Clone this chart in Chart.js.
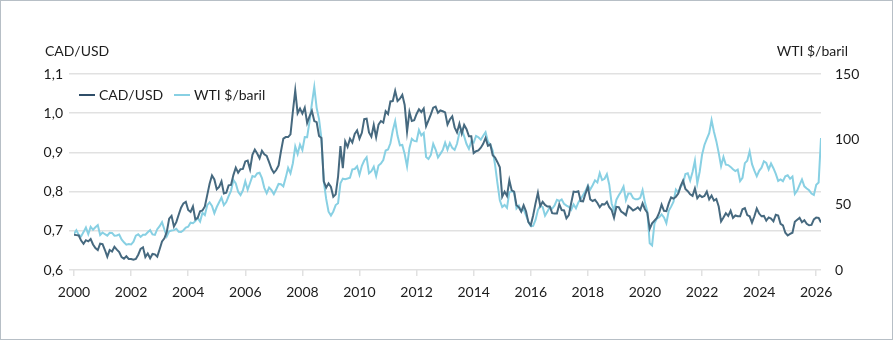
<!DOCTYPE html>
<html>
<head>
<meta charset="utf-8">
<script src="https://cdn.jsdelivr.net/npm/chart.js@4"></script>
<style>
  html, body { margin: 0; padding: 0; background: #ffffff; }
  canvas { display: block; }
</style>
</head>
<body>
<canvas id="chart" width="893" height="340"></canvas>
<script>
// Monthly series, Jan 2000 onward (end of month)
const startYear = 2000;

const cadUsd = [
  // 2000
  0.690, 0.689, 0.688, 0.675, 0.667, 0.676, 0.673, 0.679, 0.665, 0.656, 0.651, 0.667,
  // 2001
  0.666, 0.651, 0.634, 0.651, 0.647, 0.659, 0.652, 0.646, 0.633, 0.629, 0.635, 0.628,
  // 2002
  0.628, 0.626, 0.628, 0.639, 0.654, 0.658, 0.633, 0.642, 0.630, 0.641, 0.640, 0.634,
  // 2003
  0.653, 0.673, 0.681, 0.697, 0.731, 0.738, 0.711, 0.722, 0.741, 0.759, 0.770, 0.774,
  // 2004
  0.753, 0.748, 0.762, 0.729, 0.733, 0.750, 0.752, 0.762, 0.791, 0.820, 0.841, 0.831,
  // 2005
  0.806, 0.812, 0.826, 0.795, 0.797, 0.816, 0.817, 0.842, 0.861, 0.848, 0.857, 0.858,
  // 2006
  0.877, 0.879, 0.857, 0.894, 0.907, 0.897, 0.885, 0.904, 0.895, 0.891, 0.875, 0.858,
  // 2007
  0.848, 0.855, 0.867, 0.903, 0.935, 0.939, 0.939, 0.946, 1.004, 1.058, 1.000, 1.012,
  // 2008
  0.999, 1.014, 0.975, 0.992, 1.006, 0.980, 0.977, 0.942, 0.937, 0.826, 0.810, 0.821,
  // 2009
  0.812, 0.787, 0.793, 0.838, 0.916, 0.860, 0.928, 0.914, 0.935, 0.925, 0.947, 0.956,
  // 2010
  0.935, 0.950, 0.985, 0.986, 0.951, 0.940, 0.970, 0.939, 0.971, 0.980, 0.976, 1.005,
  // 2011
  0.998, 1.030, 1.031, 1.057, 1.031, 1.037, 1.047, 1.021, 0.953, 1.003, 0.980, 0.982,
  // 2012
  0.998, 1.010, 1.003, 1.012, 0.967, 0.982, 0.997, 1.014, 1.017, 1.001, 1.007, 1.005,
  // 2013
  1.002, 0.971, 0.984, 0.992, 0.964, 0.951, 0.973, 0.948, 0.970, 0.959, 0.941, 0.941,
  // 2014
  0.898, 0.903, 0.905, 0.912, 0.922, 0.937, 0.917, 0.920, 0.893, 0.887, 0.875, 0.862,
  // 2015
  0.787, 0.800, 0.789, 0.829, 0.803, 0.800, 0.765, 0.760, 0.749, 0.765, 0.750, 0.722,
  // 2016
  0.714, 0.739, 0.770, 0.797, 0.763, 0.774, 0.766, 0.762, 0.762, 0.745, 0.744, 0.744,
  // 2017
  0.768, 0.753, 0.752, 0.732, 0.740, 0.771, 0.800, 0.799, 0.801, 0.776, 0.775, 0.795,
  // 2018
  0.812, 0.780, 0.776, 0.779, 0.771, 0.760, 0.768, 0.767, 0.774, 0.760, 0.753, 0.733,
  // 2019
  0.761, 0.760, 0.749, 0.745, 0.740, 0.763, 0.758, 0.752, 0.755, 0.760, 0.753, 0.770,
  // 2020
  0.755, 0.746, 0.705, 0.719, 0.726, 0.733, 0.746, 0.767, 0.751, 0.750, 0.770, 0.785,
  // 2021
  0.782, 0.787, 0.795, 0.814, 0.828, 0.807, 0.801, 0.793, 0.789, 0.808, 0.783, 0.791,
  // 2022
  0.786, 0.789, 0.800, 0.780, 0.790, 0.777, 0.781, 0.762, 0.724, 0.734, 0.745, 0.738,
  // 2023
  0.751, 0.733, 0.739, 0.737, 0.737, 0.755, 0.758, 0.740, 0.737, 0.721, 0.737, 0.757,
  // 2024
  0.744, 0.737, 0.738, 0.726, 0.734, 0.731, 0.724, 0.741, 0.739, 0.718, 0.714, 0.695,
  // 2025
  0.688, 0.692, 0.695, 0.723, 0.728, 0.733, 0.722, 0.727, 0.718, 0.714, 0.715, 0.729,
  // 2026
  0.734, 0.733, 0.721
];

const wti = [
  // 2000
  27.6, 30.4, 26.9, 25.7, 29.0, 32.5, 27.4, 33.1, 30.8, 32.7, 34.4, 26.8,
  // 2001
  28.7, 27.4, 26.3, 28.5, 28.4, 26.3, 26.4, 27.2, 23.4, 21.2, 19.4, 19.8,
  // 2002
  19.5, 21.7, 26.3, 27.3, 25.3, 26.9, 27.0, 28.9, 30.5, 27.2, 26.9, 31.2,
  // 2003
  33.5, 36.6, 31.0, 25.8, 29.6, 30.2, 30.5, 31.6, 29.2, 29.1, 30.4, 32.5,
  // 2004
  33.1, 36.2, 35.8, 37.4, 39.9, 37.1, 43.8, 42.1, 49.6, 51.8, 49.1, 43.5,
  // 2005
  48.2, 51.8, 55.4, 49.7, 52.0, 56.5, 60.6, 68.9, 66.2, 59.8, 57.3, 61.0,
  // 2006
  67.9, 61.4, 66.6, 71.9, 71.3, 73.9, 74.4, 70.3, 62.9, 58.7, 63.1, 61.1,
  // 2007
  58.1, 61.8, 65.9, 65.7, 64.0, 70.7, 78.2, 74.0, 81.7, 94.5, 88.7, 96.0,
  // 2008
  91.8, 101.8, 101.6, 113.5, 127.4, 140.0, 124.1, 115.5, 100.6, 67.8, 54.4, 44.6,
  // 2009
  41.7, 44.8, 49.7, 51.1, 66.3, 69.9, 69.5, 70.0, 70.6, 77.0, 77.3, 79.4,
  // 2010
  72.9, 79.7, 83.8, 86.2, 74.0, 75.6, 79.0, 71.9, 80.0, 81.4, 84.1, 91.4,
  // 2011
  92.2, 97.0, 106.7, 113.9, 102.7, 95.4, 95.7, 88.8, 79.2, 93.2, 100.4, 98.8,
  // 2012
  98.5, 107.1, 103.0, 104.9, 86.5, 85.0, 88.1, 96.5, 92.2, 86.2, 88.9, 91.8,
  // 2013
  97.5, 92.1, 97.2, 93.5, 92.0, 96.6, 105.0, 107.7, 102.3, 96.4, 92.7, 98.4,
  // 2014
  97.5, 102.6, 101.6, 99.7, 102.7, 105.4, 98.2, 96.0, 91.2, 80.5, 66.2, 53.3,
  // 2015
  48.2, 49.8, 47.6, 59.6, 60.3, 59.5, 47.1, 49.2, 45.1, 46.6, 41.7, 37.0,
  // 2016
  33.6, 33.8, 38.3, 45.9, 49.1, 48.3, 41.6, 44.7, 48.2, 46.9, 49.4, 53.7,
  // 2017
  52.8, 54.0, 50.6, 49.3, 48.3, 46.0, 50.2, 47.2, 51.7, 54.4, 57.4, 60.4,
  // 2018
  64.7, 61.6, 64.9, 68.6, 67.0, 74.2, 68.8, 69.8, 73.3, 65.3, 50.9, 45.4,
  // 2019
  53.8, 57.2, 60.1, 63.9, 53.5, 58.5, 58.6, 55.1, 54.1, 54.2, 55.2, 61.1,
  // 2020
  51.6, 44.8, 20.5, 18.8, 35.5, 39.3, 40.3, 42.6, 40.2, 35.8, 45.3, 48.5,
  // 2021
  52.2, 61.5, 59.2, 63.6, 66.3, 73.5, 74.0, 68.5, 75.0, 83.6, 66.2, 75.2,
  // 2022
  88.2, 95.7, 100.3, 104.7, 114.7, 105.8, 98.6, 89.6, 79.5, 86.5, 80.6, 80.3,
  // 2023
  78.9, 77.1, 75.7, 76.8, 68.1, 70.6, 81.8, 83.6, 90.8, 81.0, 76.0, 71.7,
  // 2024
  75.9, 78.3, 83.2, 81.9, 77.0, 81.5, 77.9, 73.6, 68.2, 69.3, 68.0, 71.7,
  // 2025
  72.5, 69.8, 71.5, 58.2, 60.8, 65.1, 69.3, 64.0, 62.4, 61.0, 58.5, 57.4,
  // 2026
  65.2, 67.0, 101.0
];

const xTicks = [2000, 2002, 2004, 2006, 2008, 2010, 2012, 2014, 2016, 2018, 2020, 2022, 2024, 2026];
const leftTicks = [0.6, 0.7, 0.8, 0.9, 1.0, 1.1];
const rightTicks = [0, 50, 100, 150];

const colors = {
    cad: '#46697f',
    cadLegend: '#2f4d68',
    wti: '#88d0e3',
    grid: '#e1e1e1',
    text: '#1c1c1c',
    frame: '#b7bfc6'
};

const FONT = "Lato, 'Open Sans', sans-serif";

const toPoints = values => values.map((v, i) => ({ x: startYear + i / 12, y: v }));
const lastX = startYear + (cadUsd.length - 1) / 12;

// titles, legend and outer frame
const decorPlugin = {
    id: 'decor',
    afterDraw(chart) {
        const ctx = chart.ctx;
        ctx.save();
        ctx.font = '14px ' + FONT;
        ctx.fillStyle = colors.text;
        ctx.textBaseline = 'middle';

        ctx.textAlign = 'left';
        ctx.fillText('CAD/USD', 45, 51);
        ctx.textAlign = 'right';
        ctx.fillText('WTI $/baril', 848, 51);

        // legend
        ctx.textAlign = 'left';
        ctx.lineWidth = 2;
        ctx.strokeStyle = colors.cadLegend;
        ctx.beginPath(); ctx.moveTo(79, 95); ctx.lineTo(95, 95); ctx.stroke();
        ctx.fillText('CAD/USD', 99, 95);
        ctx.strokeStyle = colors.wti;
        ctx.beginPath(); ctx.moveTo(174, 95); ctx.lineTo(190, 95); ctx.stroke();
        ctx.fillText('WTI $/baril', 194, 95);

        // frame
        ctx.lineWidth = 1;
        ctx.strokeStyle = colors.frame;
        ctx.strokeRect(0.5, 0.5, 892, 339);
        ctx.restore();
    }
};

new Chart(document.getElementById('chart'), {
    type: 'line',
    data: {
        datasets: [
            {
                label: 'CAD/USD',
                data: toPoints(cadUsd),
                yAxisID: 'y',
                borderColor: colors.cad,
                borderWidth: 2,
                pointRadius: 0,
                tension: 0
            },
            {
                label: 'WTI $/baril',
                data: toPoints(wti),
                yAxisID: 'y1',
                borderColor: colors.wti,
                borderWidth: 2,
                pointRadius: 0,
                tension: 0
            }
        ]
    },
    options: {
        responsive: false,
        animation: false,
        devicePixelRatio: 1,
        layout: { padding: { top: 74, left: 0, right: 0, bottom: 0 } },
        plugins: {
            legend: { display: false },
            tooltip: { enabled: false }
        },
        scales: {
            x: {
                type: 'linear',
                min: startYear,
                max: lastX,
                afterBuildTicks: scale => { scale.ticks = xTicks.map(v => ({ value: v })); },
                afterFit: scale => { scale.height = 70; },
                grid: {
                    drawOnChartArea: false,
                    drawTicks: true,
                    tickLength: 6,
                    color: colors.grid,
                    lineWidth: 1.5
                },
                border: { display: false },
                ticks: {
                    padding: 8,
                    color: colors.text,
                    font: { family: FONT, size: 14 },
                    callback: v => String(v)
                }
            },
            y: {
                position: 'left',
                min: 0.6,
                max: 1.1,
                afterBuildTicks: scale => { scale.ticks = leftTicks.map(v => ({ value: v })); },
                afterFit: scale => { scale.width = 74; },
                grid: {
                    color: colors.grid,
                    lineWidth: 1.5,
                    tickLength: 5
                },
                border: { display: false },
                ticks: {
                    padding: 6,
                    color: colors.text,
                    font: { family: FONT, size: 14 },
                    callback: v => v.toFixed(1).replace('.', ',')
                }
            },
            y1: {
                position: 'right',
                min: 0,
                max: 150,
                afterBuildTicks: scale => { scale.ticks = rightTicks.map(v => ({ value: v })); },
                afterFit: scale => { scale.width = 72; },
                grid: { display: false },
                border: { display: false },
                ticks: {
                    padding: 6,
                    color: colors.text,
                    font: { family: FONT, size: 14 }
                }
            }
        }
    },
    plugins: [decorPlugin]
});
</script>
</body>
</html>
